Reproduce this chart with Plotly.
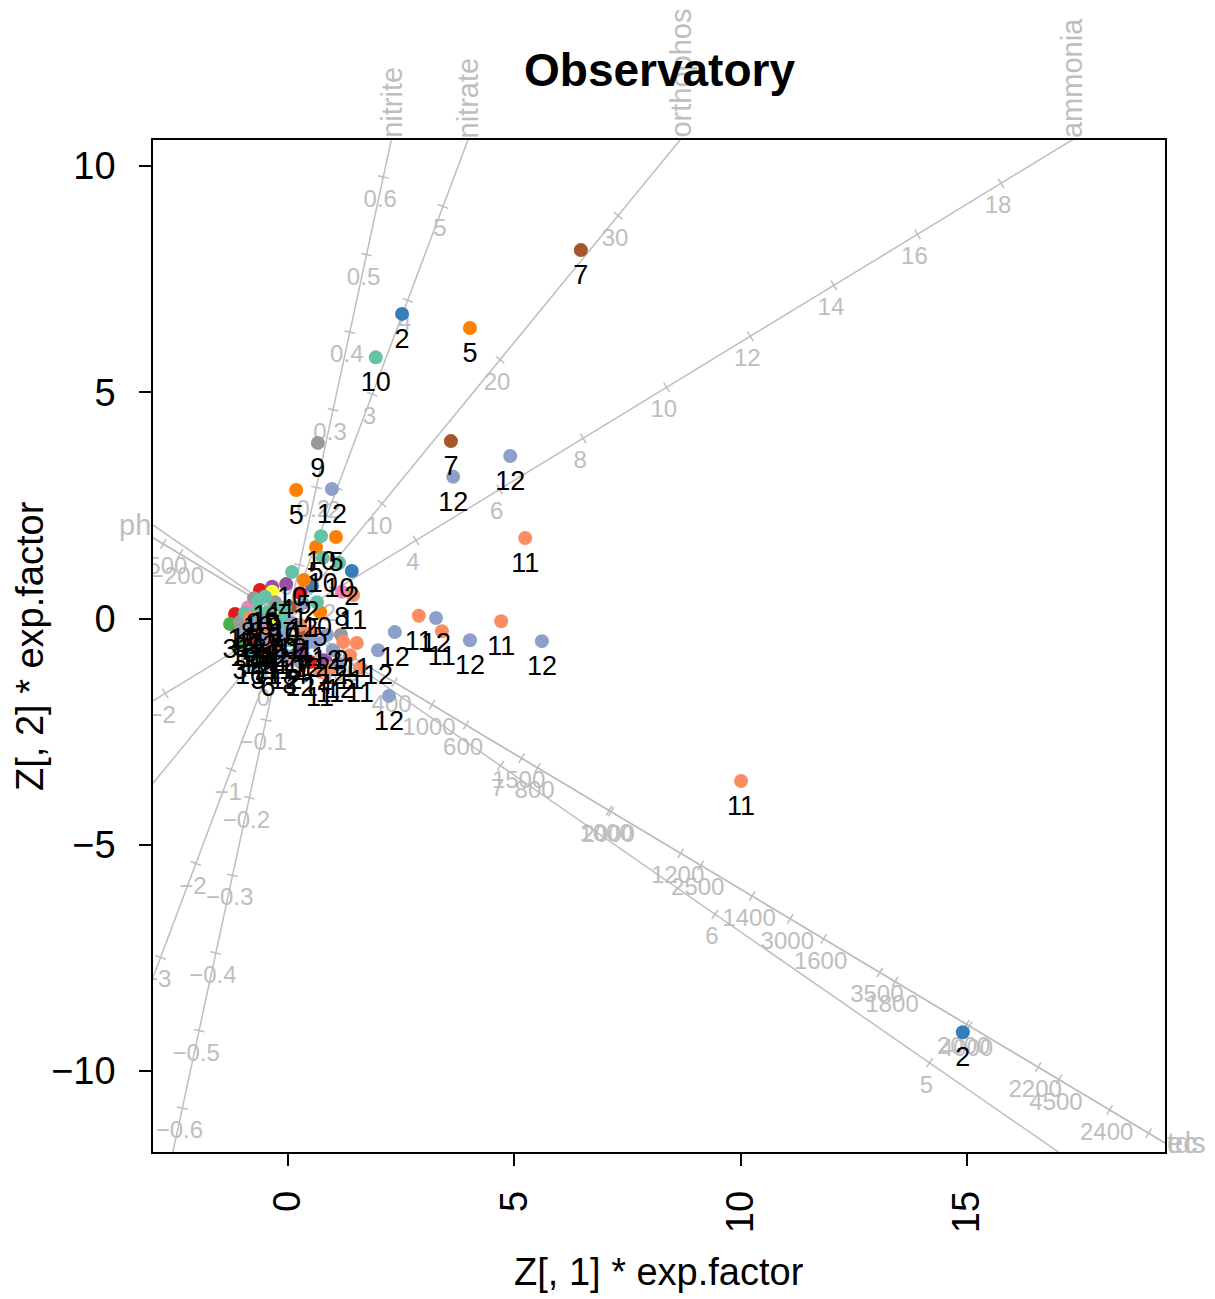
import math
import plotly.graph_objects as go

# ---------------- data (observations, in biplot coordinates) ----------------
grp = ([1] * 6 + [2] * 6 + [3] * 3 + [4] * 4 + [5] * 6 + [6] * 4 + [7] * 5 + [8] * 4 +
       [9] * 6 + [10] * 17 + [11] * 19 + [12] * 24)
z1 = [
    -0.62, -1.17, 0.27, -0.88, 0.49, -0.29,                      # 1
    2.52, 14.91, 1.41, 0.53, -0.57, 0.15,                        # 2
    -1.28, -1.06, -0.66,                                          # 3
    -0.04, -0.35, 0.27, 0.82,                                     # 4
    4.02, 0.18, 1.06, 0.62, 0.35, 0.71,                           # 5
    -0.35, -0.24, -0.44, -0.84,                                   # 6
    6.47, 3.60, 0.04, 0.27, 0.38,                                 # 7
    1.19, -0.88, -0.40, 0.04,                                     # 8
    0.66, -0.75, -0.29, -1.06, 1.17, -0.57,                       # 9
    1.94, 0.73, 0.77, 1.13, 0.09, 0.64, -0.07, -0.66, -0.51, -0.07,
    -0.95, -0.68, -0.46, -0.11, -0.40, -0.84, 0.04,               # 10
    5.24, 10.01, 2.89, 3.40, 4.71, 1.44, -0.84, 0.27, -0.77, -0.55,
    1.22, 1.52, 1.37, 0.53, -0.18, -0.51, 0.93, 0.71, 1.59,       # 11
    3.65, 4.91, 0.97, 2.23, 3.27, 4.02, 5.61, 2.36, 1.99, 0.33,
    -0.80, -0.57, 0.09, -0.29, -0.11, 0.86, 0.60, 0.42, 0.99, -0.62,
    -0.07, 0.27, -0.95, 1.15,                                     # 12
]
z2 = [
    0.63, 0.10, 0.56, -0.48, -0.96, -0.70,                        # 1
    6.73, -9.14, 1.05, 0.72, -0.59, -0.81,                        # 2
    -0.12, -0.59, -0.81,                                          # 3
    0.76, 0.70, -0.70, -0.92,                                     # 4
    6.42, 2.84, 1.80, 1.58, 0.85, 0.14,                           # 5
    0.59, 0.01, -0.96, -0.21,                                     # 6
    8.14, 3.92, 0.25, -0.21, -0.48,                               # 7
    0.59, 0.25, -0.48, -0.92,                                     # 8
    3.88, 0.45, 0.36, -0.08, -0.36, -0.30,                        # 9
    5.77, 1.82, 1.34, 1.23, 1.03, 0.36, 0.25, 0.39, 0.48, 0.14,
    0.12, 0.14, 0.14, -0.10, -0.25, -0.70, -0.48,                 # 10
    1.78, -3.59, 0.06, -0.28, -0.06, 0.52, 0.01, -0.14, -0.32, -0.25,
    -0.52, -0.54, -0.81, -0.30, -0.59, -0.70, -1.09, -1.18, -1.09,  # 11
    3.13, 3.59, 2.86, -1.71, 0.01, -0.48, -0.50, -0.30, -0.70, 0.34,
    -0.10, -0.03, -0.10, -0.32, -0.41, -0.36, -0.52, -0.54, -0.70, -0.48,
    -0.81, -0.96, -0.30, -1.01,                                   # 12
]
group_colors = ["#E41A1C", "#377EB8", "#4DAF4A", "#984EA3", "#FF7F00", "#FFFF33",
                "#A65628", "#F781BF", "#999999", "#66C2A5", "#FC8D62", "#8DA0CB"]

# ---------------- calibrated biplot axes ----------------
axis_names = ["ph", "tds", "ec", "nitrite", "nitrate", "ammonia", "orthophos"]
axis_means = [7.991, 102.0, 196.0, 0.031, 0.61, 0.937, 2.03]
axis_dx = [-4.739, 0.0079, 0.003958, 3.70, 0.780, 0.9233, 0.2607]
axis_dy = [3.282, -0.004725, -0.002367, 17.145, 2.074, 0.5635, 0.3182]
ph_ticks = [5, 6, 7, 8]
tds_ticks = list(range(-200, 2401, 200))
ec_ticks = list(range(-500, 5001, 500))
nitrite_ticks = [-0.6, -0.5, -0.4, -0.3, -0.2, -0.1, 0, 0.1, 0.2, 0.3, 0.4, 0.5, 0.6]
nitrate_ticks = [-3, -2, -1, 0, 1, 2, 3, 4, 5]
ammonia_ticks = [-2, 0, 2, 4, 6, 8, 10, 12, 14, 16, 18]
orthophos_ticks = [0, 10, 20, 30]
axis_ticks = [ph_ticks, tds_ticks, ec_ticks, nitrite_ticks, nitrate_ticks,
              ammonia_ticks, orthophos_ticks]

# ---------------- layout constants ----------------
X0, X1 = -2.983, 19.377
Y0, Y1 = -11.787, 10.572
PX = 45.26  # pixels per data unit
FONT = "Liberation Sans, Arial, Helvetica, sans-serif"
GREY = "#BEBEBE"


def fmt(v):
    s = f"{round(v, 6):g}"
    return s.replace("-", "\u2212")


fig = go.Figure()
annotations = []

line_x, line_y = [], []
tick_x, tick_y = [], []
lab_x, lab_y, lab_t = [], [], []
for name, m, dx, dy, ticks in zip(axis_names, axis_means, axis_dx, axis_dy, axis_ticks):
    L = math.hypot(dx, dy)
    ux, uy = dx / L, dy / L
    line_x += [-80 * ux, 80 * ux, None]
    line_y += [-80 * uy, 80 * uy, None]
    px_, py_ = -uy, ux
    h = 5.5 / PX
    for v in ticks:
        x = (v - m) * dx
        y = (v - m) * dy
        if not (X0 <= x <= X1 and Y0 <= y <= Y1):
            continue
        tick_x += [x - h * px_, x + h * px_, None]
        tick_y += [y - h * py_, y + h * py_, None]
        lx, ly = x - 3.0 / PX, y - 24.0 / PX
        if X0 <= lx <= X1 and Y0 <= ly <= Y1:
            lab_x.append(lx)
            lab_y.append(ly)
            lab_t.append(fmt(v))
    # axis name where the positive end leaves the plot box
    tx = (X1 / ux) if ux > 0 else (X0 / ux)
    ty = (Y1 / uy) if uy > 0 else (Y0 / uy)
    if ty <= tx:
        annotations.append(dict(x=ty * ux, y=Y1, xref="x", yref="y", text=name,
                                showarrow=False, textangle=-90, xanchor="center",
                                yanchor="bottom", font=dict(family=FONT, size=29, color=GREY)))
    elif ux > 0:
        annotations.append(dict(x=X1, y=tx * uy, xref="x", yref="y", text=name,
                                showarrow=False, xanchor="left", yanchor="middle",
                                font=dict(family=FONT, size=29, color=GREY)))
    else:
        annotations.append(dict(x=X0, y=tx * uy, xref="x", yref="y", text=name,
                                showarrow=False, xanchor="right", yanchor="middle",
                                font=dict(family=FONT, size=29, color=GREY)))

fig.add_trace(go.Scatter(x=line_x, y=line_y, mode="lines",
                         line=dict(color=GREY, width=1.5), hoverinfo="skip"))
fig.add_trace(go.Scatter(x=tick_x, y=tick_y, mode="lines",
                         line=dict(color=GREY, width=1.5), hoverinfo="skip"))
fig.add_trace(go.Scatter(x=lab_x, y=lab_y, mode="text", text=lab_t,
                         textposition="middle center", cliponaxis=True,
                         textfont=dict(family=FONT, size=24, color=GREY), hoverinfo="skip"))

# points
fig.add_trace(go.Scatter(x=z1, y=z2, mode="markers",
                         marker=dict(size=14, color=[group_colors[g - 1] for g in grp],
                                     line=dict(width=0)),
                         hoverinfo="skip"))
# point labels (below each point)
fig.add_trace(go.Scatter(x=z1, y=[v - 27.0 / PX for v in z2], mode="text",
                         text=[str(g) for g in grp], textposition="middle center",
                         cliponaxis=True,
                         textfont=dict(family=FONT, size=27, color="black"),
                         hoverinfo="skip"))

PH = 1012.0  # plot height in px
annotations += [
    dict(text="<b>Observatory</b>", x=0.5, y=(1152 - 70) / PH, xref="paper", yref="paper",
         showarrow=False, xanchor="center", yanchor="middle",
         font=dict(family=FONT, size=46, color="black")),
    dict(text="Z[, 1] * exp.factor", x=0.5, y=(1152 - 1272) / PH, xref="paper",
         yref="paper", showarrow=False, xanchor="center", yanchor="middle",
         font=dict(family=FONT, size=38, color="black")),
    dict(text="Z[, 2] * exp.factor", x=(30 - 153) / PH, y=0.5, xref="paper",
         yref="paper", showarrow=False, xanchor="center", yanchor="middle",
         textangle=-90, font=dict(family=FONT, size=38, color="black")),
]

fig.update_layout(
    width=1207, height=1291, autosize=False,
    margin=dict(l=145, r=50, t=132, b=147),
    paper_bgcolor="white", plot_bgcolor="white",
    showlegend=False,
    annotations=annotations,
    xaxis=dict(range=[X0, X1], tickvals=[0, 5, 10, 15], tickangle=-90,
               ticks="outside", ticklen=12, tickwidth=1.5, tickcolor="black",
               ticklabelstandoff=10,
               tickfont=dict(family=FONT, size=38, color="black"),
               showgrid=False, zeroline=False, showline=True, mirror=True,
               linecolor="black", linewidth=1.5, fixedrange=True),
    yaxis=dict(range=[Y0, Y1], tickvals=[-10, -5, 0, 5, 10],
               ticks="outside", ticklen=12, tickwidth=1.5, tickcolor="black",
               ticklabelstandoff=16,
               tickfont=dict(family=FONT, size=38, color="black"),
               showgrid=False, zeroline=False, showline=True, mirror=True,
               linecolor="black", linewidth=1.5, fixedrange=True),
)

fig.write_html("out.html")
